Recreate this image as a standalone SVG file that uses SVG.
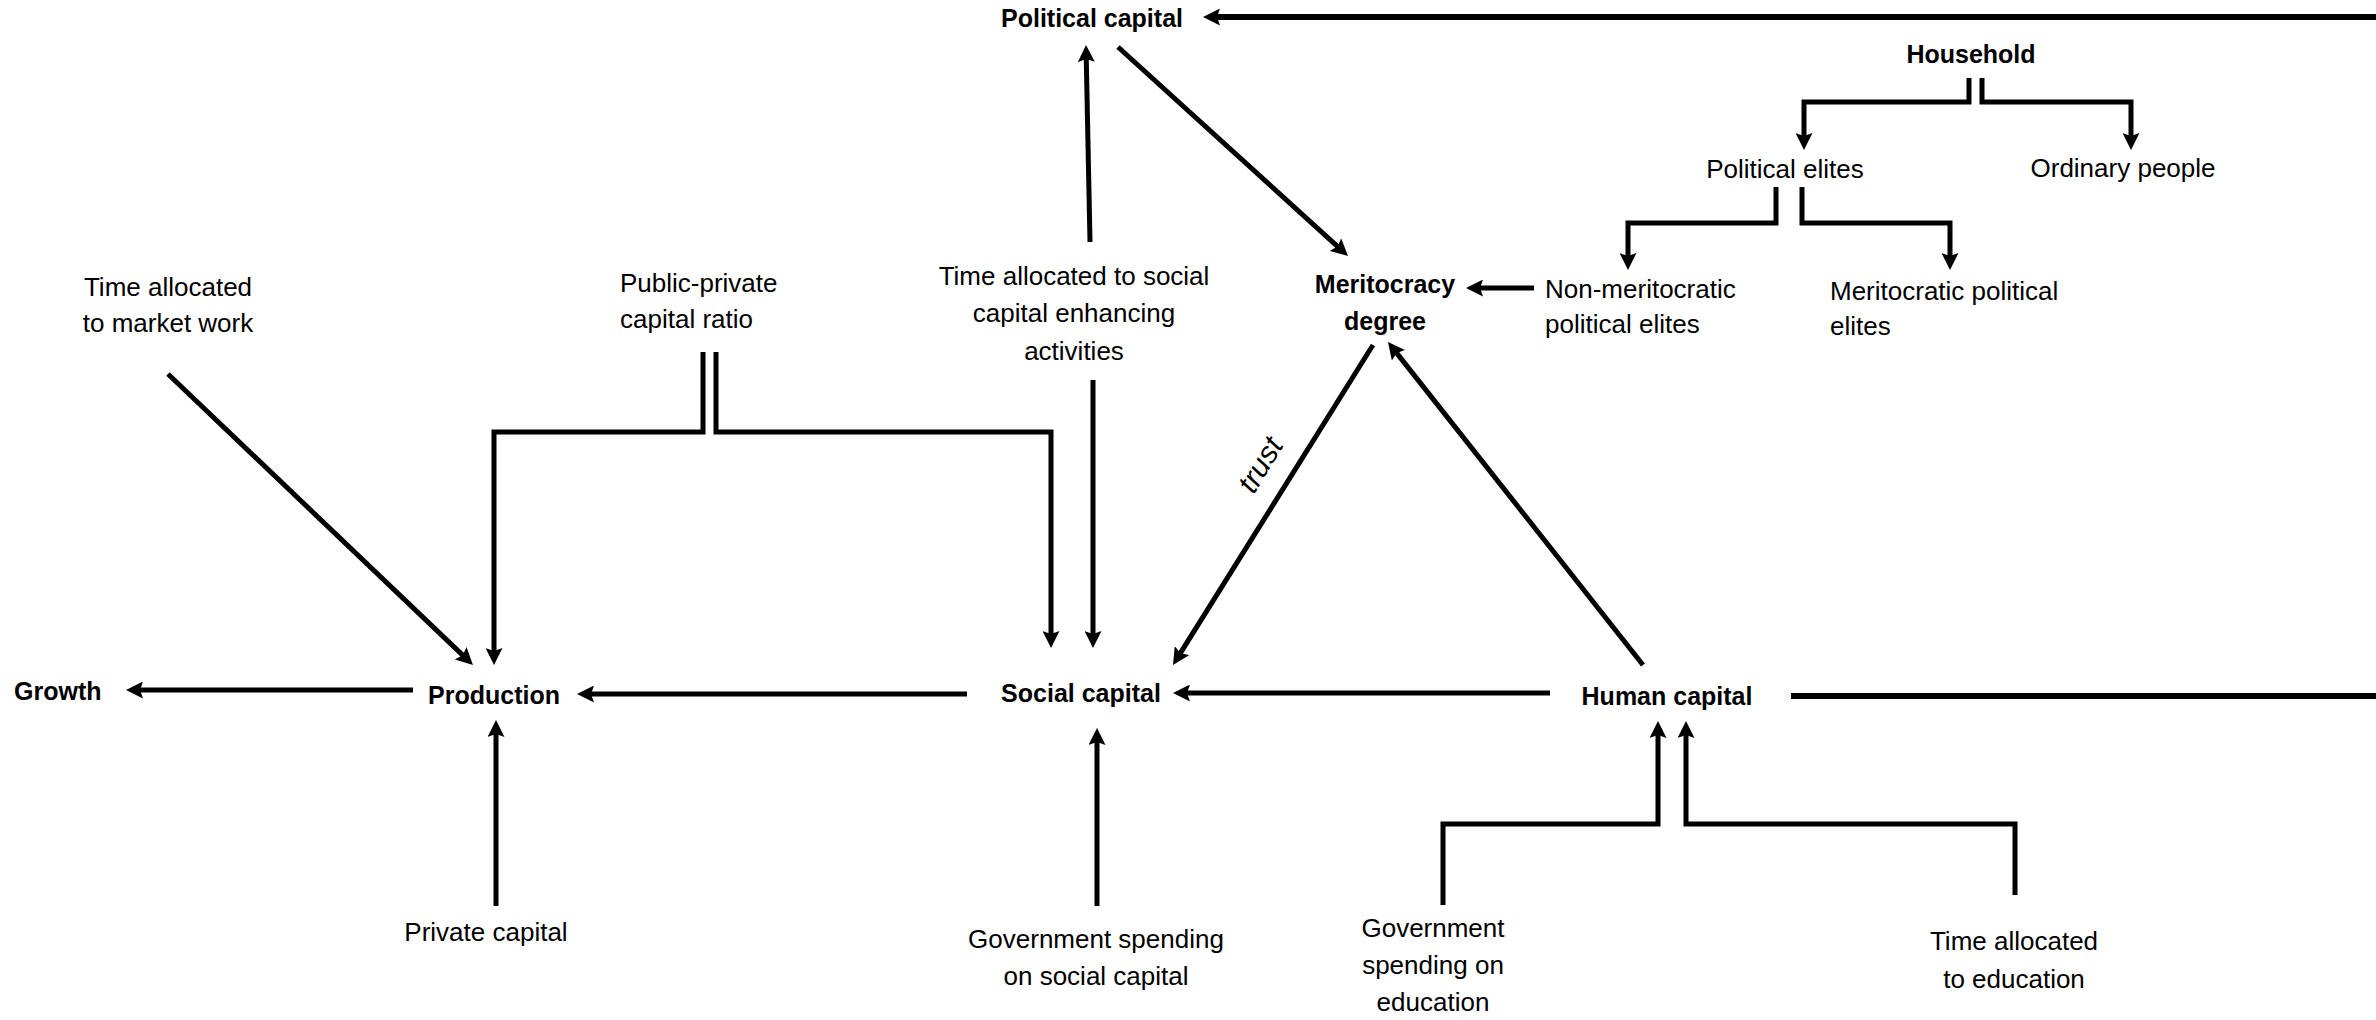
<svg xmlns="http://www.w3.org/2000/svg" width="2376" height="1020" viewBox="0 0 2376 1020">
<style>
.t{font-family:"Liberation Sans",Arial,sans-serif;font-size:26px;fill:#000}
.b{font-family:"Liberation Sans",Arial,sans-serif;font-size:25px;font-weight:bold;fill:#000}
.m{text-anchor:middle}
.i{font-family:"Liberation Sans",Arial,sans-serif;font-size:30px;font-style:italic;fill:#000}
.c{fill:none;stroke:#000;stroke-width:5;stroke-linejoin:miter}
.a{marker-end:url(#ah)}
.w{stroke-width:6}
</style>
<defs>
<marker id="ah" markerUnits="userSpaceOnUse" markerWidth="17" markerHeight="17" viewBox="0 0 17 17" refX="6" refY="8.5" orient="auto">
<path d="M0,0 L17,8.5 L0,17 L3,8.5 z" fill="#000"/>
</marker>
</defs>
<rect width="2376" height="1020" fill="#fff"/>
<g id="connectors">
<path class="c a w" d="M2376,17 L1214,17"/>
<path class="c a" d="M1090,242 L1086.2,56"/>
<path class="c a" d="M1118,47 L1339.9,248.6"/>
<path class="c a" d="M1969,78 L1969,102 L1804,102 L1804,139"/>
<path class="c a" d="M1982,78 L1982,102 L2131,102 L2131,139"/>
<path class="c a" d="M1776,187 L1776,223 L1628,223 L1628,259"/>
<path class="c a" d="M1802,187 L1802,223 L1950,223 L1950,259"/>
<path class="c a" d="M1534,288 L1477,288"/>
<path class="c a" d="M168,374 L465,657.4"/>
<path class="c a" d="M703,352 L703,432 L494,432 L494,654"/>
<path class="c a" d="M716,352 L716,432 L1051,432 L1051,637"/>
<path class="c a" d="M1093,380 L1093,637"/>
<path class="c a" d="M1373,345 L1178.8,655.7"/>
<path class="c a" d="M1643,665 L1394.8,350.6"/>
<path class="c a" d="M413,690 L137,690"/>
<path class="c a" d="M967,694 L588,694"/>
<path class="c a" d="M1550,693 L1184,693"/>
<path class="c w" d="M1791,696 L2376,696"/>
<path class="c a" d="M496,906 L496,731"/>
<path class="c a" d="M1097,906 L1097,739"/>
<path class="c a" d="M1443,905 L1443,824 L1658,824 L1658,732"/>
<path class="c a" d="M2015,895 L2015,824 L1686,824 L1686,732"/>
<text class="i m" transform="translate(1269,470) rotate(-58.7)">trust</text>
</g>
<g id="political-capital"><text class="b m" x="1092" y="27">Political capital</text></g>
<g id="household"><text class="b m" x="1971" y="63">Household</text></g>
<g id="political-elites"><text class="t m" x="1785" y="178">Political elites</text></g>
<g id="ordinary-people"><text class="t m" x="2123" y="177">Ordinary people</text></g>
<g id="non-meritocratic"><text class="t" x="1545" y="298">Non-meritocratic</text><text class="t" x="1545" y="333">political elites</text></g>
<g id="meritocratic"><text class="t" x="1830" y="300">Meritocratic political</text><text class="t" x="1830" y="335">elites</text></g>
<g id="meritocracy-degree"><text class="b m" x="1385" y="293">Meritocracy</text><text class="b m" x="1385" y="330">degree</text></g>
<g id="time-market"><text class="t m" x="168" y="296">Time allocated</text><text class="t m" x="168" y="332">to market work</text></g>
<g id="public-private"><text class="t" x="620" y="292">Public-private</text><text class="t" x="620" y="328">capital ratio</text></g>
<g id="time-social"><text class="t m" x="1074" y="285">Time allocated to social</text><text class="t m" x="1074" y="322">capital enhancing</text><text class="t m" x="1074" y="360">activities</text></g>
<g id="growth"><text class="b" x="14" y="700">Growth</text></g>
<g id="production"><text class="b m" x="494" y="704">Production</text></g>
<g id="social-capital"><text class="b m" x="1081" y="702">Social capital</text></g>
<g id="human-capital"><text class="b m" x="1667" y="705">Human capital</text></g>
<g id="private-capital"><text class="t m" x="486" y="941">Private capital</text></g>
<g id="gov-social"><text class="t m" x="1096" y="948">Government spending</text><text class="t m" x="1096" y="985">on social capital</text></g>
<g id="gov-education"><text class="t m" x="1433" y="937">Government</text><text class="t m" x="1433" y="974">spending on</text><text class="t m" x="1433" y="1011">education</text></g>
<g id="time-education"><text class="t m" x="2014" y="950">Time allocated</text><text class="t m" x="2014" y="988">to education</text></g>
</svg>
